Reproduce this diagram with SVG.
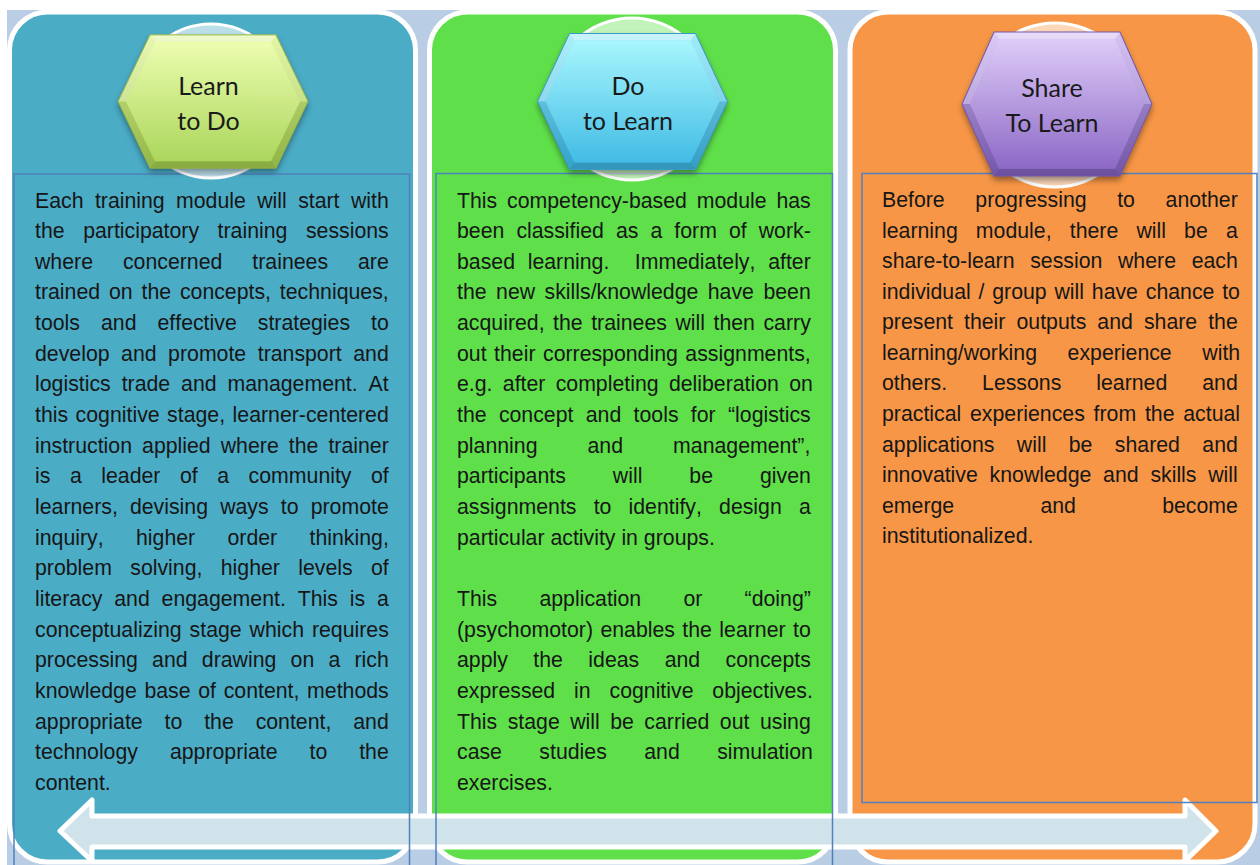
<svg xmlns="http://www.w3.org/2000/svg" xmlns:xlink="http://www.w3.org/1999/xlink" width="1260" height="865" viewBox="0 0 1260 865">
<style>
.panel{stroke:#ffffff;stroke-width:5}
.box{fill:none;stroke:#4F81BD;stroke-width:1.5}
.halo{fill:#ffffff;fill-opacity:0.62;stroke:#ffffff;stroke-width:3}
.t{font-family:"Liberation Sans",Arial,sans-serif;font-size:21.3px;fill:#161616;font-kerning:none}
.hl{font-family:Lato,"Open Sans",sans-serif;font-size:25px;fill:#1a1a1a;text-anchor:middle}
</style>
<defs>
<polygon id="hexO" points="-63,-68 63,-68 95,0 63,68 -63,68 -95,0"/>
<polygon id="hexI" points="-58,-61 58,-61 87,0 58,61 -58,61 -87,0"/>
<g id="facets">
<polygon points="-63,-68 63,-68 58,-61 -58,-61" fill="#ffffff" fill-opacity="0.5"/>
<polygon points="63,-68 95,0 87,0 58,-61" fill="#ffffff" fill-opacity="0.18"/>
<polygon points="95,0 63,68 58,61 87,0" fill="#000000" fill-opacity="0.07"/>
<polygon points="63,68 -63,68 -58,61 58,61" fill="#000000" fill-opacity="0.12"/>
<polygon points="-63,68 -95,0 -87,0 -58,61" fill="#000000" fill-opacity="0.05"/>
<polygon points="-95,0 -63,-68 -58,-61 -87,0" fill="#ffffff" fill-opacity="0.28"/>
</g>
<filter id="sh" x="-20%" y="-20%" width="140%" height="150%">
<feGaussianBlur stdDeviation="3"/>
</filter>
<linearGradient id="g1" x1="0" y1="0" x2="0" y2="1"><stop offset="0" stop-color="#ECFDB0"/><stop offset="1" stop-color="#ABD65C"/></linearGradient>
<linearGradient id="g1o" x1="0" y1="0" x2="0" y2="1"><stop offset="0" stop-color="#DDF494"/><stop offset="1" stop-color="#9CC24A"/></linearGradient>
<linearGradient id="g2" x1="0" y1="0" x2="0" y2="1"><stop offset="0" stop-color="#A8F6FD"/><stop offset="1" stop-color="#42BCE5"/></linearGradient>
<linearGradient id="g2o" x1="0" y1="0" x2="0" y2="1"><stop offset="0" stop-color="#8FE8F8"/><stop offset="1" stop-color="#38AAD6"/></linearGradient>
<linearGradient id="g3" x1="0" y1="0" x2="0" y2="1"><stop offset="0" stop-color="#DECBF7"/><stop offset="1" stop-color="#8C69C6"/></linearGradient>
<linearGradient id="g3o" x1="0" y1="0" x2="0" y2="1"><stop offset="0" stop-color="#CDB6F0"/><stop offset="1" stop-color="#7A5BB4"/></linearGradient>
</defs>

<rect x="0" y="0" width="1260" height="865" fill="#ffffff"/>
<rect x="7" y="10" width="1253" height="855" fill="#B9CDE4"/>

<g id="panels">
<rect class="panel" x="9.5" y="12" width="406" height="850" rx="38" fill="#4BACC6"/>
<rect class="panel" x="429.5" y="12" width="406" height="850" rx="38" fill="#5FE04A"/>
<rect class="panel" x="850" y="12" width="405" height="850" rx="38" fill="#F79646"/>
</g>

<g id="connectors">
<polygon points="60,831 92,800 92,816 1185,816 1185,800 1216,831 1185,861 1185,847 92,847 92,861" fill="#D0E3EA" stroke="#ffffff" stroke-width="5" stroke-linejoin="round"/>
</g>

<g id="learn-to-do">
<rect class="box" x="14" y="174" width="395.5" height="700"/>
<circle class="halo" cx="211" cy="101" r="77"/>
<g transform="translate(213,101.5) scale(1,0.98)">
<use xlink:href="#hexO" fill="#000000" fill-opacity="0.4" filter="url(#sh)" transform="translate(0,4)"/>
<use xlink:href="#hexO" fill="url(#g1o)"/>
<use xlink:href="#facets"/>
<use xlink:href="#hexI" fill="url(#g1)"/>
<use xlink:href="#hexO" fill="none" stroke="#94B444" stroke-width="1"/>
</g>
<text class="hl" x="208.5" y="95">Learn</text>
<text class="hl" x="208.5" y="130">to Do</text>
<g transform="translate(35,207.5) scale(1,1.045)">
<text class="t" y="0" style="word-spacing:5.46px">Each training module will start with</text>
<text class="t" y="29.33" style="word-spacing:12.64px">the participatory training sessions</text>
<text class="t" y="58.66" style="word-spacing:24.07px">where concerned trainees are</text>
<text class="t" y="87.99" style="word-spacing:2.95px">trained on the concepts, techniques,</text>
<text class="t" y="117.32" style="word-spacing:15.1px">tools and effective strategies to</text>
<text class="t" y="146.65" style="word-spacing:5.62px">develop and promote transport and</text>
<text class="t" y="175.98" style="word-spacing:5.03px">logistics trade and management. At</text>
<text class="t" y="205.31" style="word-spacing:1.59px">this cognitive stage, learner-centered</text>
<text class="t" y="234.64" style="word-spacing:4.15px">instruction applied where the trainer</text>
<text class="t" y="263.97" style="word-spacing:13.62px">is a leader of a community of</text>
<text class="t" y="293.3" style="word-spacing:6.23px">learners, devising ways to promote</text>
<text class="t" y="322.63" style="word-spacing:26.46px">inquiry, higher order thinking,</text>
<text class="t" y="351.96" style="word-spacing:12.44px">problem solving, higher levels of</text>
<text class="t" y="381.29" style="word-spacing:5.92px">literacy and engagement. This is a</text>
<text class="t" y="410.62" style="word-spacing:1.99px">conceptualizing stage which requires</text>
<text class="t" y="439.95" style="word-spacing:8.29px">processing and drawing on a rich</text>
<text class="t" y="469.28" style="word-spacing:1.77px">knowledge base of content, methods</text>
<text class="t" y="498.61" style="word-spacing:15.97px">appropriate to the content, and</text>
<text class="t" y="527.94" style="word-spacing:26.04px">technology appropriate to the</text>
<text class="t" y="557.27">content.</text>
</g>
</g>

<g id="do-to-learn">
<rect class="box" x="436" y="173.5" width="396.5" height="700"/>
<circle class="halo" cx="632" cy="99" r="81"/>
<g transform="translate(632.5,101.5)">
<use xlink:href="#hexO" fill="#000000" fill-opacity="0.4" filter="url(#sh)" transform="translate(0,4)"/>
<use xlink:href="#hexO" fill="url(#g2o)"/>
<use xlink:href="#facets"/>
<use xlink:href="#hexI" fill="url(#g2)"/>
<use xlink:href="#hexO" fill="none" stroke="#3A9CC6" stroke-width="1"/>
</g>
<text class="hl" x="628" y="95">Do</text>
<text class="hl" x="628" y="130">to Learn</text>
<g transform="translate(457,207.5) scale(1,1.045)">
<text class="t" y="0" style="word-spacing:3.96px">This competency-based module has</text>
<text class="t" y="29.33" style="word-spacing:6.13px">been classified as a form of work-</text>
<text class="t" y="58.66" style="word-spacing:6.81px">based learning.&#160; Immediately, after</text>
<text class="t" y="87.99" style="word-spacing:3.55px">the new skills/knowledge have been</text>
<text class="t" y="117.32" style="word-spacing:2.62px">acquired, the trainees will then carry</text>
<text class="t" y="146.65" style="word-spacing:1.59px">out their corresponding assignments,</text>
<text class="t" y="175.98" style="word-spacing:4.38px">e.g. after completing deliberation on</text>
<text class="t" y="205.31" style="word-spacing:6.4px">the concept and tools for “logistics</text>
<text class="t" y="234.64" style="word-spacing:44.15px">planning and management”,</text>
<text class="t" y="263.97" style="word-spacing:41.06px">participants will be given</text>
<text class="t" y="293.3" style="word-spacing:11.25px">assignments to identify, design a</text>
<text class="t" y="322.63">particular activity in groups.</text>
<text class="t" y="381.29" style="word-spacing:36.32px">This application or “doing”</text>
<text class="t" y="410.62" style="word-spacing:1.49px">(psychomotor) enables the learner to</text>
<text class="t" y="439.95" style="word-spacing:19.53px">apply the ideas and concepts</text>
<text class="t" y="469.28" style="word-spacing:12.96px">expressed in cognitive objectives.</text>
<text class="t" y="498.61" style="word-spacing:4.55px">This stage will be carried out using</text>
<text class="t" y="527.94" style="word-spacing:31.5px">case studies and simulation</text>
<text class="t" y="557.27">exercises.</text>
</g>
</g>

<g id="share-to-learn">
<rect class="box" x="862" y="173.5" width="395" height="629"/>
<circle class="halo" cx="1055" cy="105" r="82"/>
<g transform="translate(1057,104) scale(1,1.06)">
<use xlink:href="#hexO" fill="#000000" fill-opacity="0.4" filter="url(#sh)" transform="translate(0,4)"/>
<use xlink:href="#hexO" fill="url(#g3o)"/>
<use xlink:href="#facets"/>
<use xlink:href="#hexI" fill="url(#g3)"/>
<use xlink:href="#hexO" fill="none" stroke="#7558AE" stroke-width="1"/>
</g>
<text class="hl" x="1052" y="97">Share</text>
<text class="hl" x="1052" y="132">To Learn</text>
<g transform="translate(882,207) scale(1,1.045)">
<text class="t" y="0" style="word-spacing:24.74px">Before progressing to another</text>
<text class="t" y="29.25" style="word-spacing:12.24px">learning module, there will be a</text>
<text class="t" y="58.5" style="word-spacing:9.77px">share-to-learn session where each</text>
<text class="t" y="87.75" style="word-spacing:1.88px">individual / group will have chance to</text>
<text class="t" y="117" style="word-spacing:5.14px">present their outputs and share the</text>
<text class="t" y="146.25" style="word-spacing:24.7px">learning/working experience with</text>
<text class="t" y="175.5" style="word-spacing:29.07px">others. Lessons learned and</text>
<text class="t" y="204.75" style="word-spacing:2.87px">practical experiences from the actual</text>
<text class="t" y="234" style="word-spacing:16.5px">applications will be shared and</text>
<text class="t" y="263.25" style="word-spacing:5.85px">innovative knowledge and skills will</text>
<text class="t" y="292.5" style="word-spacing:80.35px">emerge and become</text>
<text class="t" y="321.75">institutionalized.</text>
</g>
</g>
</svg>
